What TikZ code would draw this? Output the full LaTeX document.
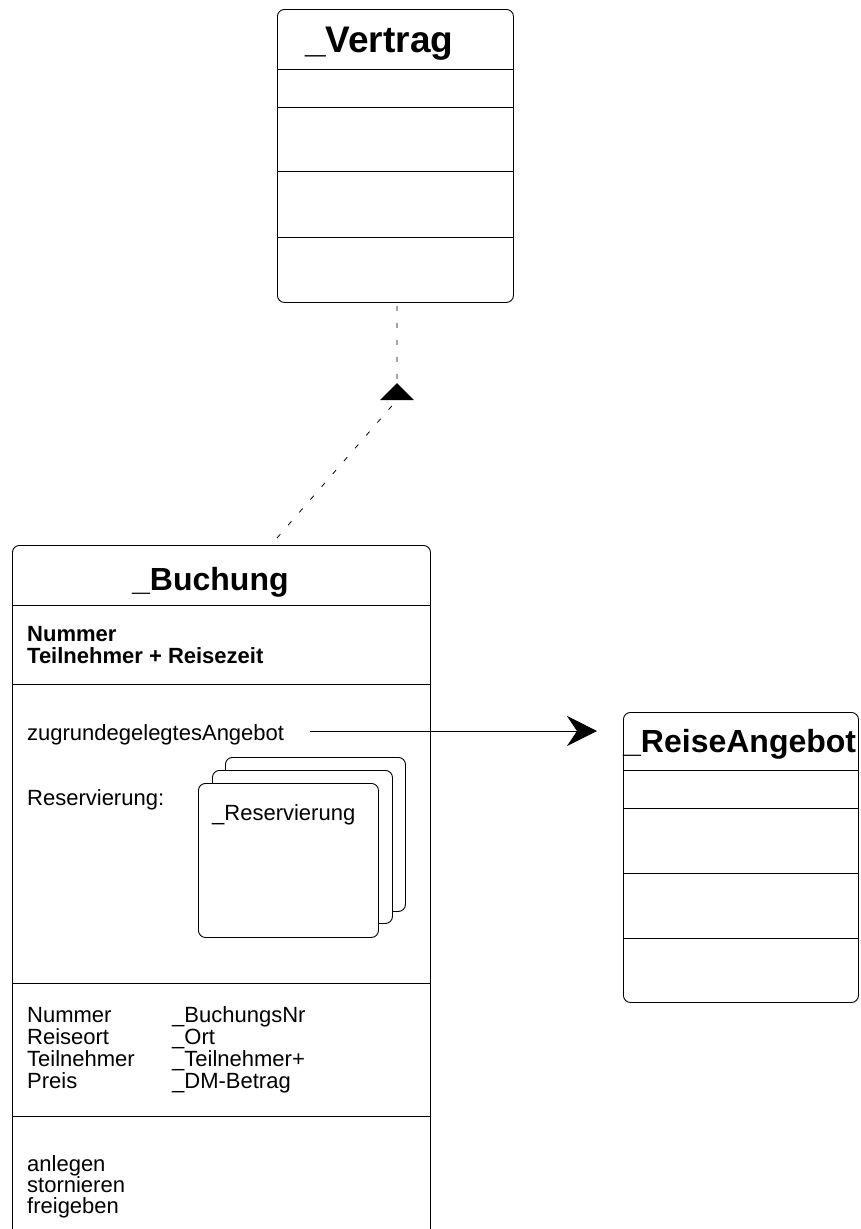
\documentclass[tikz,border=0pt]{standalone}
\usepackage{fontspec}
\setmainfont{Liberation Sans}
\usetikzlibrary{arrows.meta, calc}

\tikzset{
  klasse/.style={draw, line width=0.9pt, rounded corners=7pt, anchor=north west, inner sep=0pt},
  titel/.style={font=\bfseries\fontsize{32}{36}\selectfont, anchor=base west, inner sep=0pt},
  attr/.style={font=\fontsize{22}{22}\selectfont, anchor=base west, inner sep=0pt},
  battr/.style={attr, font=\bfseries\fontsize{22}{22}\selectfont},
  trenn/.style={line width=0.9pt},
  abh/.style={line width=0.8pt, dash pattern=on 5pt off 12pt},
}

\begin{document}
\begin{tikzpicture}[x=1pt, y=-1pt]
        \useasboundingbox (0,0) rectangle (860,1229);
        \clip (0,0) rectangle (860,1229);

        % Klassen
        \node[klasse, minimum width=236pt, minimum height=293pt] at (277,9) (vertrag) {};
        \node[klasse, minimum width=235pt, minimum height=290pt] at (623,712) (reise) {};
        \node[klasse, minimum width=418pt, minimum height=720pt] at (12,545) (buchung) {};

        \foreach \d in {60,98,162,228}
            \draw[trenn] ([yshift=-\d]vertrag.north west) -- ([yshift=-\d]vertrag.north east);
        \foreach \d in {58,96,161,226}
            \draw[trenn] ([yshift=-\d]reise.north west) -- ([yshift=-\d]reise.north east);
        \foreach \d in {60,139,438,571}
            \draw[trenn] ([yshift=-\d]buchung.north west) -- ([yshift=-\d]buchung.north east);

        \node[titel, font=\bfseries\fontsize{37}{40}\selectfont] at (305,52) (vertragtitel) {\_Vertrag};
        \node[titel] at (132,590) (buchungtitel) {\_Buchung};
        \node[titel] at (623,752) (reisetitel) {\_ReiseAngebot};

        % Buchung
        \node[battr] at (27,641) (bnummer) {Nummer};
        \node[battr] at (27,663) (bteiln) {Teilnehmer + Reisezeit};
        \node[attr] at (27,740) (zga) {zugrundegelegtesAngebot};
        \node[attr] at (27,805) (resvlabel) {Reservierung:};

        \node[klasse, fill=white, minimum width=180pt, minimum height=154pt] at (225,757) (resv3) {};
        \node[klasse, fill=white, minimum width=180pt, minimum height=153pt] at (212,770) (resv2) {};
        \node[klasse, fill=white, minimum width=180pt, minimum height=154pt] at (198,783) (resv1) {};
        \node[attr] at (212,820) (resvtitel) {\_Reservierung};

        \foreach \n/\t/\y in {Nummer/BuchungsNr/1022, Reiseort/Ort/1044, Teilnehmer/Teilnehmer+/1066, Preis/DM-Betrag/1088} {
            \node[attr] at (27,\y) (a-\n) {\n};
            \node[attr] at (172,\y) (t-\n) {\_\t};
        }
        \foreach \o/\y in {anlegen/1171, stornieren/1192, freigeben/1213}
            \node[attr] at (27,\y) (op-\o) {\o};

        % Verbindungen
        \coordinate (zgastart) at (310,731);
        \coordinate (zgaende) at (597,731);
        \draw[line width=0.9pt, -{Stealth[length=30pt, width=30pt, inset=10pt]}] (zgastart) -- (zgaende);

        \coordinate (knick) at (397,400);
        \coordinate (fuss) at (277,538);
        \draw[abh] (fuss) -- (knick) -- (vertrag.south -| knick);
        \fill ([xshift=-17pt]knick) -- ([yshift=17pt]knick) -- ([xshift=17pt]knick) -- cycle;
    \end{tikzpicture}
\end{document}
